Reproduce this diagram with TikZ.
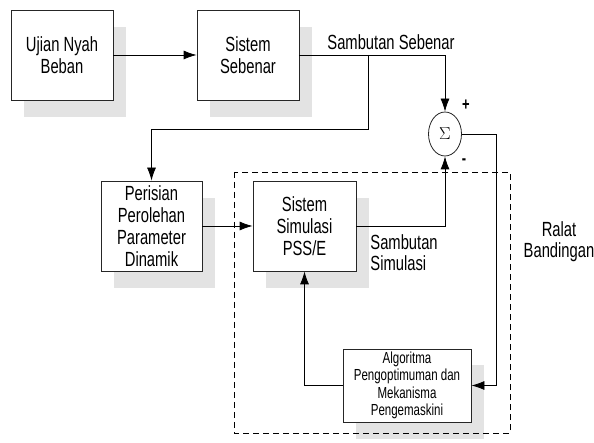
\documentclass[tikz,border=0pt]{standalone}
\usepackage{fontspec}
\setmainfont{Liberation Sans}[FakeStretch=0.72]
\usetikzlibrary{arrows.meta,shadows,shapes.geometric}

\begin{document}
\begin{tikzpicture}[x=1pt,y=-1pt,line width=0.8pt,
  blok/.style={draw=black!85,fill=white,align=center,inner sep=0pt,
    minimum width=102pt,minimum height=90pt,font=\fontsize{20.5}{22}\selectfont,
    drop shadow={shadow xshift=13pt,shadow yshift=-17pt,fill=black!11,opacity=1}},
  label teks/.style={align=center,inner sep=0pt,font=\fontsize{20.5}{21}\selectfont},
  panah/.style={-{Latex[length=13pt,width=9pt]}}]
\useasboundingbox (0,0) rectangle (594,443);
\node[blok] (ujian) at (62,55) {Ujian Nyah\\Beban};
\node[blok] (sistem) at (248,55) {Sistem\\Sebenar};
\node[blok,minimum width=101pt] (perisian) at (151.5,226) {Perisian\\Perolehan\\Parameter\\Dinamik};
\node[blok,minimum width=103pt] (simulasi) at (304.5,226) {Sistem\\Simulasi\\PSS/E};
\node[blok,minimum width=128pt,minimum height=73pt,font=\fontsize{16}{17.5}\selectfont,
  drop shadow={shadow xshift=13pt,shadow yshift=-16pt,fill=black!11,opacity=1}]
  (algoritma) at (407,385.5) {Algoritma\\Pengoptimuman dan\\Mekanisma\\Pengemaskini};
\node[ellipse,draw=black!85,inner sep=0pt,minimum width=33pt,minimum height=44pt,
  font=\fontsize{17}{17}\selectfont] (sigma) at (445,134) {$\Sigma$};
\coordinate (cabang) at (368,55);
\draw[panah] (ujian) -- (sistem);
\draw[panah] (sistem.east) -| (sigma.north);
\draw[panah] (cabang) -- ++(0,74) -| (perisian.north);
\draw[panah] (perisian) -- (simulasi);
\draw[panah] (simulasi.east) -| (sigma.south);
\draw[panah] (sigma.east) -- ++(34,0) |- (algoritma.east);
\draw[panah] (algoritma.west) -| (simulasi.south);
\node[label teks] (sebenar) at (391,42) {Sambutan Sebenar};
\node[label teks,align=left,anchor=west] (simteks) at (370,253) {Sambutan\\Simulasi};
\node[label teks] (ralat) at (559,242) {Ralat\\Bandingan};
\node[inner sep=0pt,font=\fontsize{18}{18}\selectfont\bfseries] (tambah) at (466,105) {+};
\node[inner sep=0pt,font=\fontsize{18}{18}\selectfont\bfseries] (tolak) at (464,162) {-};
\draw[dash pattern=on 6pt off 4pt,line width=0.7pt] (234,172) rectangle (510,433);
\end{tikzpicture}
\end{document}
